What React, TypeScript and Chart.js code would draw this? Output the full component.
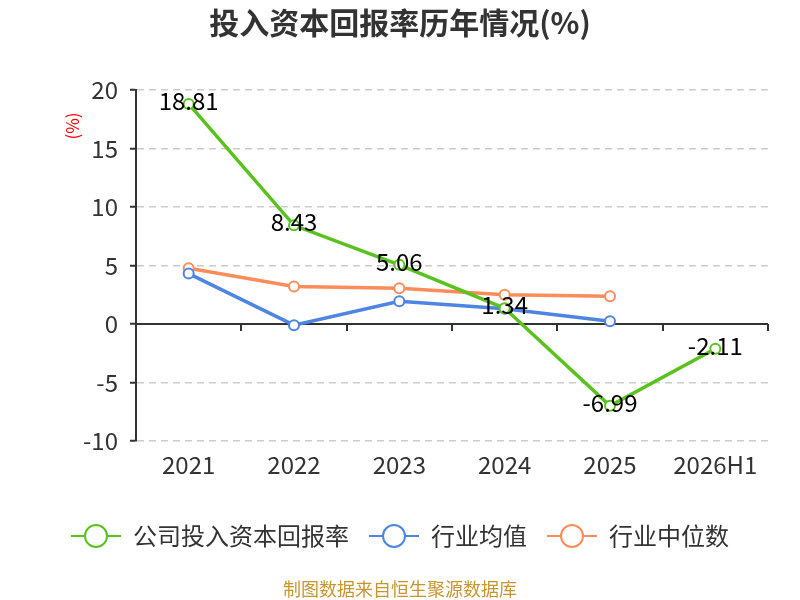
import { useEffect, useRef } from 'react';
import { Chart, registerables } from 'chart.js';

Chart.register(...registerables);

const years = ['2021', '2022', '2023', '2024', '2025', '2026H1'];
const companyRoic = [18.81, 8.43, 5.06, 1.34, -6.99, -2.11];
const industryAvg = [4.31, -0.1, 1.94, 1.31, 0.23, null];
const industryMedian = [4.77, 3.2, 3.06, 2.51, 2.37, null];
const seriesNames = ['公司投入资本回报率', '行业均值', '行业中位数'];
const seriesColors = ['#5ac21e', '#4e84e2', '#fd8c5b'];

const FONT = '"Noto Sans CJK SC", "Noto Sans", sans-serif';

// 图例里的 线+圆圈 标记
function legendMark(color: string) {
  const c = document.createElement('canvas');
  c.width = 50;
  c.height = 26;
  const ctx = c.getContext('2d')!;
  ctx.strokeStyle = color;
  ctx.lineWidth = 2;
  ctx.beginPath();
  ctx.moveTo(0, 13);
  ctx.lineTo(50, 13);
  ctx.stroke();
  ctx.beginPath();
  ctx.arc(25, 13, 11, 0, Math.PI * 2);
  ctx.fillStyle = '#fff';
  ctx.fill();
  ctx.stroke();
  return c;
}

const decorPlugin = {
  id: 'decor',
  beforeDatasetsDraw(chart: any) {
    const { ctx, chartArea, scales } = chart;
    const y0 = scales.y.getPixelForValue(0);
    const n = years.length;
    const step = (chartArea.right - chartArea.left) / n;
    ctx.save();
    ctx.strokeStyle = '#333';
    ctx.lineWidth = 2;
    ctx.beginPath();
    ctx.moveTo(chartArea.left, y0);
    ctx.lineTo(chartArea.right, y0);
    for (let i = 1; i <= n; i++) {
      const x = Math.round(chartArea.left + step * i);
      ctx.moveTo(x, y0);
      ctx.lineTo(x, y0 + 7);
    }
    ctx.stroke();
    ctx.restore();
  },
  afterDatasetsDraw(chart: any) {
    const { ctx } = chart;
    const meta = chart.getDatasetMeta(0);
    ctx.save();
    ctx.font = `24px ${FONT}`;
    ctx.fillStyle = '#000';
    ctx.textAlign = 'center';
    ctx.textBaseline = 'middle';
    meta.data.forEach((pt: any, i: number) => {
      ctx.fillText(companyRoic[i].toFixed(2), pt.x, pt.y - 3);
    });
    ctx.restore();
  },
  afterDraw(chart: any) {
    const { ctx, width } = chart;
    ctx.save();
    ctx.textAlign = 'center';
    ctx.textBaseline = 'middle';
    ctx.font = `bold 30px ${FONT}`;
    ctx.fillStyle = '#333';
    ctx.fillText('投入资本回报率历年情况(%)', width / 2, 23);
    ctx.font = `18px ${FONT}`;
    ctx.fillStyle = '#c9952e';
    ctx.fillText('制图数据来自恒生聚源数据库', width / 2, 589);
    ctx.translate(73, 126);
    ctx.rotate(-Math.PI / 2);
    ctx.font = `17px ${FONT}`;
    ctx.fillStyle = '#f00';
    ctx.fillText('(%)', 0, 0);
    ctx.restore();
  },
};

export default function App() {
  const canvasRef = useRef<HTMLCanvasElement>(null);

  useEffect(() => {
    if (!canvasRef.current) return;
    const values = [companyRoic, industryAvg, industryMedian];
    const marks = seriesColors.map(legendMark);

    const chart = new Chart(canvasRef.current, {
      type: 'line',
      data: {
        labels: years,
        datasets: values.map((data, i) => ({
          label: seriesNames[i],
          data,
          borderColor: seriesColors[i],
          backgroundColor: '#fff',
          borderWidth: 3.5,
          pointRadius: 5,
          pointBorderWidth: 2,
          pointBackgroundColor: '#fff',
          pointBorderColor: seriesColors[i],
          tension: 0,
        })),
      },
      options: {
        animation: false,
        responsive: false,
        layout: { padding: { top: 90, left: 32, right: 32, bottom: 42 } },
        plugins: {
          title: { display: false },
          tooltip: { enabled: false },
          legend: {
            position: 'bottom',
            labels: {
              usePointStyle: true,
              pointStyleWidth: 50,
              padding: 20,
              color: '#333',
              font: { size: 24, family: FONT },
              generateLabels: (c: any) =>
                c.data.datasets.map((ds: any, i: number) => ({
                  text: ds.label,
                  pointStyle: marks[i],
                  fillStyle: '#fff',
                  strokeStyle: seriesColors[i],
                  lineWidth: 0,
                  fontColor: '#333',
                  datasetIndex: i,
                  hidden: false,
                })),
            },
          },
        },
        scales: {
          x: {
            offset: true,
            grid: { display: false, drawTicks: false },
            border: { display: false },
            ticks: { color: '#333', padding: 9, font: { size: 24, family: FONT } },
            afterFit: (s: any) => { s.height = 63; },
          },
          y: {
            min: -10,
            max: 20,
            ticks: { stepSize: 5, color: '#333', padding: 12, font: { size: 24, family: FONT } },
            grid: { color: '#cccccc', lineWidth: 1.5, tickLength: 6, tickColor: '#333', tickWidth: 2 },
            border: { display: true, color: '#333', width: 2, dash: [7, 5] },
            afterFit: (s: any) => { s.width = 104; },
          },
        },
      },
      plugins: [decorPlugin],
    });

    return () => chart.destroy();
  }, []);

  return (
    <div style={{ position: 'fixed', left: 0, top: 0, width: 800, height: 600, background: '#fff' }}>
      <canvas ref={canvasRef} width={800} height={600} style={{ width: 800, height: 600 }} />
    </div>
  );
}
